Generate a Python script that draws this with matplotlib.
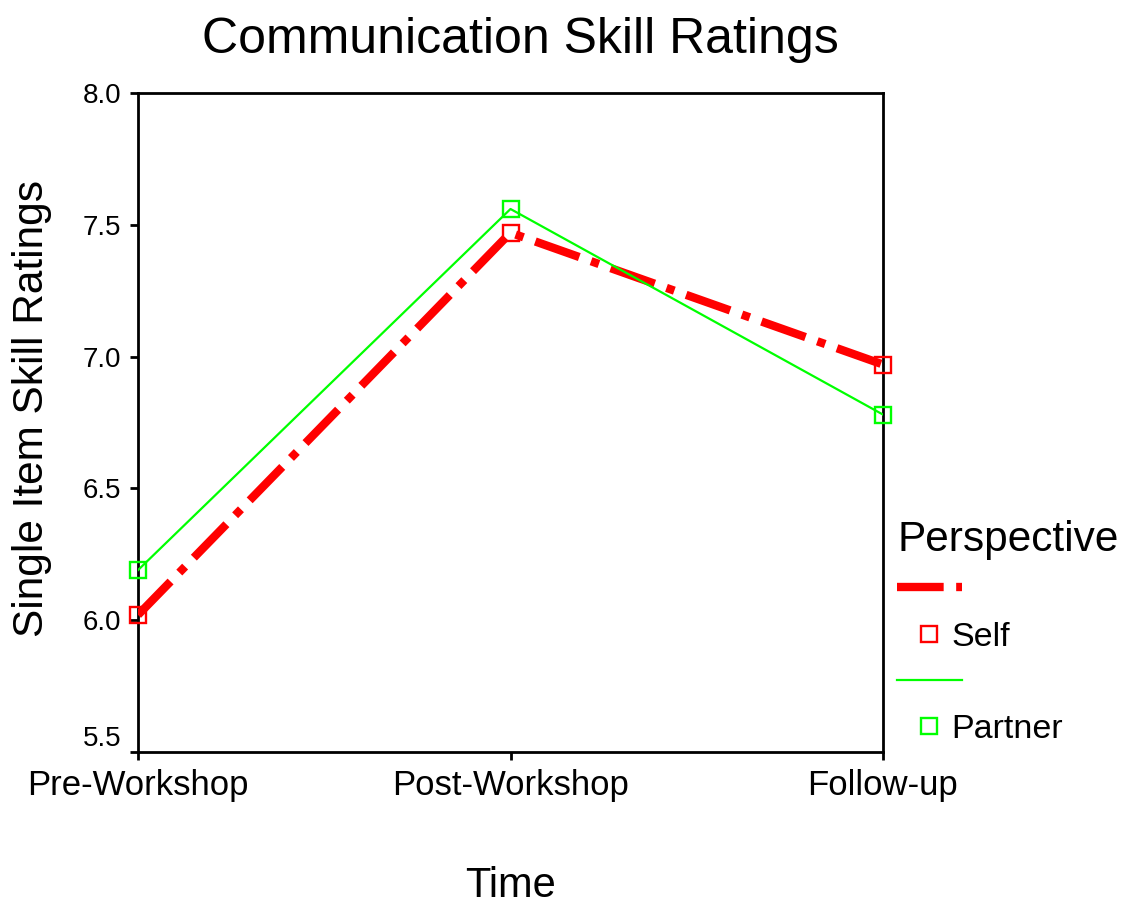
import matplotlib
matplotlib.use("Agg")
import matplotlib.pyplot as plt
from matplotlib.lines import Line2D

plt.rcParams['font.family'] = ['Liberation Sans', 'DejaVu Sans']

times = ["Pre-Workshop", "Post-Workshop", "Follow-up"]
self_ratings = [6.02, 7.47, 6.97]
partner_ratings = [6.19, 7.56, 6.78]
y_ticks = [5.5, 6.0, 6.5, 7.0, 7.5, 8.0]

fig = plt.figure(figsize=(11.36, 9.06), dpi=100)
ax = fig.add_axes([138/1136, 1-752/906, (883-138)/1136, (752-93)/906])

x = range(len(times))
red_dash = (5.6, 1.5, 1.0, 1.5)
ax.plot(x, self_ratings, color='#ff0000', lw=6, dashes=red_dash,
        solid_capstyle='butt', dash_capstyle='butt', zorder=3)
ax.plot(x, partner_ratings, color='#00ff00', lw=1.6, zorder=3)
ax.plot(x, self_ratings, ls='none', marker='s', ms=12, mfc='none',
        mec='#ff0000', mew=1.7, zorder=4, clip_on=False)
ax.plot(x, partner_ratings, ls='none', marker='s', ms=12, mfc='none',
        mec='#00ff00', mew=1.7, zorder=4, clip_on=False)

ax.set_xlim(0, len(times) - 1)
ax.set_ylim(5.5, 8.0)
ax.set_xticks(list(x))
ax.set_xticklabels(times, fontsize=25)
ax.set_yticks(y_ticks)
ax.set_yticklabels([f"{v:.1f}" for v in y_ticks], fontsize=20)
ax.get_yticklabels()[0].set_va('bottom')
ax.tick_params(length=6, width=2, direction='out', pad=6)
for s in ax.spines.values():
    s.set_linewidth(2)

ax.set_xlabel("Time", fontsize=30, labelpad=46)
ax.set_ylabel("Single Item Skill Ratings", fontsize=30.5)
ax.yaxis.set_label_coords(-0.115, 0.522)
ax.set_title("Communication Skill Ratings", fontsize=36, pad=29, x=0.513)

handles = [
    Line2D([], [], color='#ff0000', lw=6, dashes=red_dash),
    Line2D([], [], ls='none', marker='s', ms=12, mfc='none', mec='#ff0000', mew=1.7),
    Line2D([], [], color='#00ff00', lw=1.6),
    Line2D([], [], ls='none', marker='s', ms=12, mfc='none', mec='#00ff00', mew=1.7),
]
labels = ["", "Self", "", "Partner"]
leg = fig.legend(handles, labels, loc='upper left', bbox_to_anchor=(880/1136, 1-503/906),
                 frameon=False, fontsize=24.5, title="Perspective", title_fontsize=30.5,
                 handlelength=1.9, handletextpad=-0.3, labelspacing=0.45,
                 borderpad=0, alignment='left')

fig.savefig("out.png", dpi=100)
